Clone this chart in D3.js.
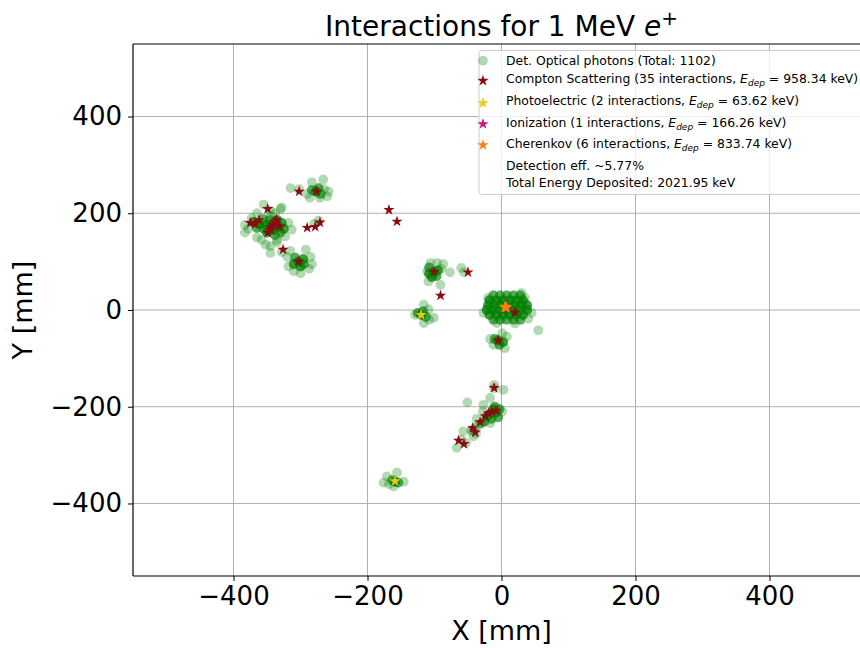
<!DOCTYPE html>
<html>
<head>
<meta charset="utf-8">
<script src="https://cdn.jsdelivr.net/npm/d3@7"></script>
<style>
  body { margin: 0; background: #fff; }
  text { font-family: "DejaVu Sans", sans-serif; }
</style>
</head>
<body>
<svg id="chart" width="860" height="648"></svg>
<script>
// Detected optical photon hits: [x mm, y mm, hits at that spot]
const photons = [
  // upper-left group
  [-370,182,5],[-362,178,5],[-352,176,4],[-342,178,6],[-333,172,6],[-342,165,5],
  [-350,160,4],[-335,186,4],[-325,168,4],[-338,155,3],[-356,188,3],[-328,180,4],
  [-365,170,3],[-346,186,3],[-330,160,3],[-355,168,3],
  [-355,218,1],[-345,205,1],[-330,209,1],[-378,168,1],[-383,160,1],[-383,176,1],
  [-358,145,1],[-345,132,1],[-313,166,1],[-318,180,1],[-323,152,1],[-335,145,1],
  [-365,150,1],[-352,135,1],[-335,140,1],[-365,200,1],[-338,200,1],[-345,195,1],
  [-373,190,1],[-345,118,1],[-328,120,1],[-273,185,1],[-280,178,1],
  // group near (-300, 100)
  [-303,100,5],[-296,105,4],[-310,95,4],[-300,90,4],[-308,108,3],[-295,95,3],
  [-320,110,1],[-318,90,1],[-285,110,1],[-283,95,1],[-292,125,1],[-300,76,1],
  [-310,80,1],[-287,85,1],[-315,122,1],
  // group near (-277, 245)
  [-277,245,5],[-270,240,3],[-283,248,3],[-273,252,3],
  [-266,270,1],[-283,264,1],[-258,245,1],[-260,235,1],[-286,232,1],[-271,232,1],
  [-315,252,1],[-302,250,1],[-328,212,1],[-290,240,1],[-265,250,1],
  // group near (-100, 80)
  [-101,79,5],[-108,75,4],[-95,82,4],[-104,68,4],[-97,70,3],[-108,88,3],
  [-106,97,1],[-96,97,1],[-87,95,1],[-77,78,1],[-91,52,1],[-109,59,1],
  [-111,80,1],[-60,87,1],[-56,78,1],[-90,85,1],
  // group near (-120, -10)
  [-120,-10,4],[-113,-14,3],[-125,-6,3],[-117,-3,3],
  [-116,11,1],[-101,-16,1],[-116,-27,1],[-129,-10,1],[-109,1,1],[-108,-20,1],
  // central group
  [-12,30,3],[-2,30,3],[8,30,3],[18,30,3],[28,30,3],
  [-18,20,4],[-8,20,4],[2,20,4],[12,20,4],[22,20,4],[32,20,4],
  [-20,10,4],[-10,10,4],[0,10,4],[10,10,4],[20,10,4],[30,10,4],[38,10,4],
  [-22,0,4],[-12,0,4],[-2,0,4],[8,0,4],[18,0,4],[28,0,4],[38,0,4],
  [-18,-10,4],[-8,-10,4],[2,-10,4],[12,-10,4],[22,-10,4],[32,-10,4],
  [-12,-20,3],[-2,-20,3],[8,-20,3],[18,-20,3],[28,-20,3],
  [-27,-6,1],[30,35,1],[45,-6,1],[55,-42,1],[-7,-27,1],[40,-18,1],
  [-20,25,1],[35,25,1],[20,-28,1],
  // group near (-5, -63)
  [-5,-63,4],[-10,-60,3],[2,-67,3],[-3,-72,3],
  [-17,-60,1],[1,-48,1],[5,-79,1],[-12,-72,1],[3,-65,1],[8,-55,1],
  // diagonal track
  [-12,-205,4],[-8,-212,4],[-17,-215,4],[-5,-222,3],[-15,-225,3],[-22,-220,3],
  [-10,-200,3],[-3,-205,3],[-25,-230,3],[-30,-235,2],
  [-35,-238,1],[-40,-245,1],[-45,-250,1],[-38,-255,1],
  [-11,-155,1],[-11,-162,1],[3,-165,1],[-17,-182,1],[-51,-191,1],[-27,-196,1],
  [1,-210,1],[-37,-225,1],[-44,-248,1],[-57,-251,1],[-42,-261,1],[-53,-275,1],
  [-67,-285,1],[-60,-268,1],[-17,-234,1],[-28,-210,1],
  // lower group
  [-159,-355,4],[-163,-352,3],[-154,-357,3],
  [-171,-344,1],[-156,-336,1],[-146,-355,1],[-176,-357,1],[-161,-365,1],[-168,-360,1]
];

// Interaction vertices [x mm, y mm]
const compton = [
  [-302,245],[-276,245],[-349,209],[-375,180],[-368,178],[-362,186],[-336,187],
  [-340,176],[-331,173],[-345,172],[-349,160],[-290,170],[-278,172],[-271,181],
  [-326,125],[-303,100],[-168,207],[-156,183],[-101,79],[-50,78],[-91,30],
  [20,-5],[-5,-63],[-11,-161],[-14,-210],[-19,-213],[-24,-220],[-32,-232],
  [-43,-244],[-39,-253],[-64,-270],[-56,-277],[-338,182],[-8,-208],[-344,166]
];
const photoelectric = [[-120,-10],[-159,-354]];
const ionization = [[8,4]];
const cherenkov = [[6,6],[7,5],[6,7],[5,6],[7,6],[6,5]];

const xTicks = [-400, -200, 0, 200, 400];
const yTicks = [-400, -200, 0, 200, 400];

const legendRows = [
  { kind: "circle", color: "green", parts: [["Det. Optical photons (Total: 1102)"]] },
  { kind: "star", color: "#8b0a14", parts: [["Compton Scattering (35 interactions, "], ["E", "i"], ["dep", "sub"], [" = 958.34 keV)"]] },
  { kind: "star", color: "#f5c518", parts: [["Photoelectric (2 interactions, "], ["E", "i"], ["dep", "sub"], [" = 63.62 keV)"]] },
  { kind: "star", color: "#c71585", parts: [["Ionization (1 interactions, "], ["E", "i"], ["dep", "sub"], [" = 166.26 keV)"]] },
  { kind: "star", color: "#ff7f0e", parts: [["Cherenkov (6 interactions, "], ["E", "i"], ["dep", "sub"], [" = 833.74 keV)"]] },
  { kind: null, parts: [["Detection eff. ~5.77%"]] },
  { kind: null, parts: [["Total Energy Deposited: 2021.95 keV"]] }
];

const svg = d3.select("#chart");
const W = 860, H = 648;
const plot = { left: 133, right: 870, top: 44, bottom: 576 };

const x = d3.scaleLinear().domain([-550, 550]).range([plot.left, plot.right]);
const y = d3.scaleLinear().domain([-550, 550]).range([plot.bottom, plot.top]);

svg.append("rect").attr("width", W).attr("height", H).attr("fill", "#fff");

svg.append("defs").append("clipPath").attr("id", "plotclip")
  .append("rect").attr("x", plot.left).attr("y", plot.top)
  .attr("width", plot.right - plot.left).attr("height", plot.bottom - plot.top);

// grid
const grid = svg.append("g").attr("stroke", "#b0b0b0").attr("stroke-width", 1);
grid.selectAll(".gx").data(xTicks).join("line")
  .attr("x1", d => x(d)).attr("x2", d => x(d))
  .attr("y1", plot.top).attr("y2", plot.bottom);
grid.selectAll(".gy").data(yTicks).join("line")
  .attr("y1", d => y(d)).attr("y2", d => y(d))
  .attr("x1", plot.left).attr("x2", plot.right);

const body = svg.append("g").attr("clip-path", "url(#plotclip)");

// photon hits
const hits = photons.flatMap(([px, py, n]) => d3.range(n).map(() => [px, py]));
body.append("g").selectAll("circle").data(hits).join("circle")
  .attr("cx", d => x(d[0])).attr("cy", d => y(d[1])).attr("r", 4.9)
  .attr("fill", "green").attr("fill-opacity", 0.3);

// interaction stars
const star = d3.symbol(d3.symbolStar, 40);
function drawStars(data, color) {
  body.append("g").selectAll("path").data(data).join("path")
    .attr("d", star)
    .attr("transform", d => `translate(${x(d[0])},${y(d[1])})`)
    .attr("fill", color);
}
drawStars(compton, legendRows[1].color);
drawStars(photoelectric, legendRows[2].color);
drawStars(ionization, legendRows[3].color);
drawStars(cherenkov, legendRows[4].color);

// axes
const xAxis = d3.axisBottom(x).tickValues(xTicks).tickSize(5).tickPadding(6);
const yAxis = d3.axisLeft(y).tickValues(yTicks).tickSize(5).tickPadding(6);

const gx = svg.append("g").attr("transform", `translate(0,${plot.bottom})`).call(xAxis);
const gy = svg.append("g").attr("transform", `translate(${plot.left},0)`).call(yAxis);
[gx, gy].forEach(g => {
  g.select(".domain").remove();
  g.selectAll(".tick line").attr("stroke", "#000").attr("stroke-width", 1);
  g.selectAll(".tick text").attr("fill", "#000").style("font-size", "26px")
    .style("font-family", "DejaVu Sans, sans-serif");
});

// spines
const spines = svg.append("g").attr("stroke", "#000").attr("stroke-width", 1.2).attr("fill", "none");
spines.append("line").attr("x1", plot.left).attr("x2", plot.left).attr("y1", plot.top).attr("y2", plot.bottom);
spines.append("line").attr("x1", plot.left).attr("x2", plot.right).attr("y1", plot.top).attr("y2", plot.top);
spines.append("line").attr("x1", plot.left).attr("x2", plot.right).attr("y1", plot.bottom).attr("y2", plot.bottom);

// axis titles
svg.append("text").attr("x", (plot.left + plot.right) / 2).attr("y", 640)
  .attr("text-anchor", "middle").style("font-size", "27px").text("X [mm]");
svg.append("text").attr("transform", `translate(32,${(plot.top + plot.bottom) / 2}) rotate(-90)`)
  .attr("text-anchor", "middle").style("font-size", "27px").text("Y [mm]");

// title
const title = svg.append("text").attr("x", (plot.left + plot.right) / 2).attr("y", 36)
  .attr("text-anchor", "middle").style("font-size", "28px");
title.append("tspan").text("Interactions for 1 MeV ");
title.append("tspan").style("font-style", "italic").text("e");
title.append("tspan").attr("dy", -11).style("font-size", "20px").text("+");

// legend
const lg = svg.append("g");
lg.append("rect").attr("x", 479).attr("y", 50.5).attr("width", 420).attr("height", 144)
  .attr("rx", 3).attr("fill", "#fff").attr("fill-opacity", 0.8)
  .attr("stroke", "#cccccc").attr("stroke-width", 1);

const markerY = [60.7, 80.7, 103, 124, 145];
const textY = [64.7, 83.3, 105, 126.7, 148, 169.7, 186.7];
legendRows.forEach((row, i) => {
  if (row.kind === "circle") {
    lg.append("circle").attr("cx", 483).attr("cy", markerY[i]).attr("r", 4.9)
      .attr("fill", row.color).attr("fill-opacity", 0.3);
  } else if (row.kind === "star") {
    lg.append("path").attr("d", star).attr("fill", row.color)
      .attr("transform", `translate(483,${markerY[i]})`);
  }
  const t = lg.append("text").attr("x", 506).attr("y", textY[i]).style("font-size", "12.4px").attr("fill", "#000");
  row.parts.forEach(([s, style]) => {
    const sp = t.append("tspan").text(s);
    if (style === "i") sp.style("font-style", "italic");
    if (style === "sub") sp.style("font-style", "italic").style("font-size", "9px").attr("dy", 3);
    if (style === undefined && s.startsWith(" =")) sp.attr("dy", -3);
  });
});
</script>
</body>
</html>
